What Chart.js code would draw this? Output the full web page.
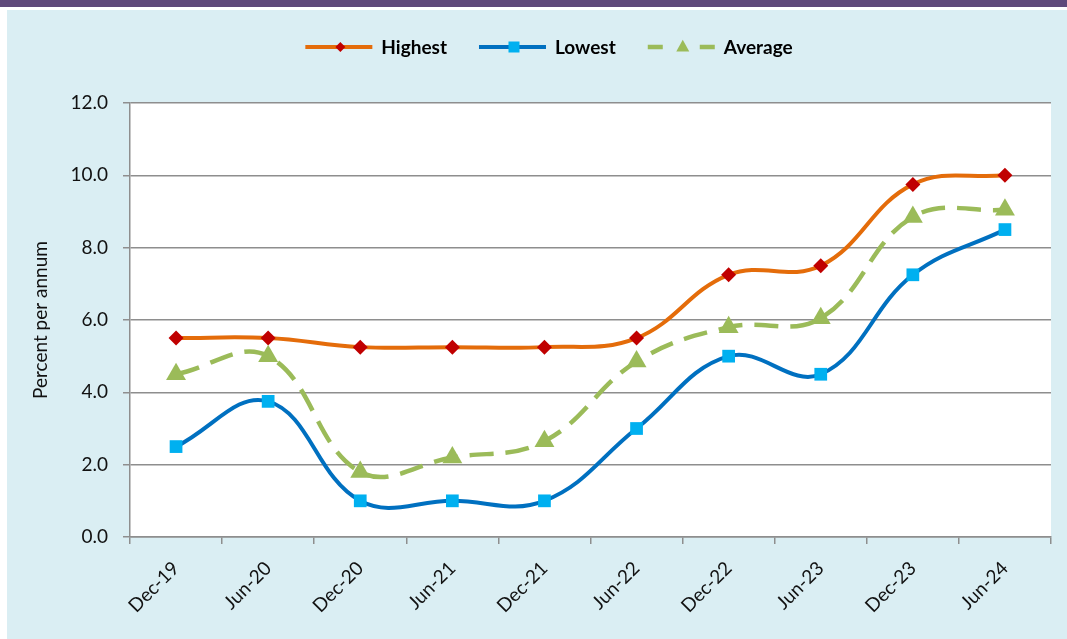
<!DOCTYPE html>
<html>
<head>
<meta charset="utf-8">
<script src="https://cdn.jsdelivr.net/npm/chart.js@4.4.1/dist/chart.umd.min.js"></script>
<style>
  html, body { margin: 0; padding: 0; background: #fff; }
  #band { position: absolute; left: 0; top: 0; width: 1067px; height: 7px; background: #5F497A; }
  #panel { position: absolute; left: 7px; top: 10px; width: 1060px; height: 629px; background: #DAEEF3; }
  #rateChart { position: absolute; left: 0; top: 0; }
</style>
</head>
<body>
<div id="band"></div>
<div id="panel"></div>
<canvas id="rateChart" width="1067" height="639"></canvas>
<script>
// Periods on the x axis
const periods = ['Dec-19', 'Jun-20', 'Dec-20', 'Jun-21', 'Dec-21', 'Jun-22', 'Dec-22', 'Jun-23', 'Dec-23', 'Jun-24'];

// Rates, percent per annum
const highestRates = [5.5, 5.5, 5.25, 5.25, 5.25, 5.5, 7.25, 7.5, 9.75, 10.0];
const lowestRates = [2.5, 3.75, 1.0, 1.0, 1.0, 3.0, 5.0, 4.5, 7.25, 8.5];
const averageRates = [4.5, 5.0, 1.8, 2.2, 2.65, 4.85, 5.8, 6.05, 8.85, 9.05];

const seriesNames = ['Highest', 'Lowest', 'Average'];
const yTicks = [0, 2, 4, 6, 8, 10, 12];

const FONT = 'Lato, "Open Sans", sans-serif';
const GRID = '#8E8E8E';

// white plot area behind everything
const plotBackground = {
    id: 'plotBackground',
    beforeDraw(chart) {
        const a = chart.chartArea;
        const ctx = chart.ctx;
        ctx.save();
        ctx.fillStyle = '#ffffff';
        ctx.fillRect(a.left, a.top, a.right - a.left, a.bottom - a.top);
        ctx.restore();
    }
};

function markerPath(ctx, style, x, y, r) {
    ctx.beginPath();
    if (style === 'rectRot') {
        ctx.moveTo(x - r, y); ctx.lineTo(x, y - r); ctx.lineTo(x + r, y); ctx.lineTo(x, y + r);
    } else if (style === 'rect') {
        ctx.rect(x - r, y - r, 2 * r, 2 * r);
    } else {
        ctx.moveTo(x, y - r * 1.1); ctx.lineTo(x + r, y + r * 0.7); ctx.lineTo(x - r, y + r * 0.7);
    }
    ctx.closePath();
    ctx.fill();
}

// Excel style legend: line with marker in the middle, then bold label
const lineLegend = {
    id: 'lineLegend',
    afterDraw(chart) {
        const ctx = chart.ctx;
        const sizes = [5, 5.5, 6.5];
        ctx.save();
        ctx.font = 'bold 19px ' + FONT;
        ctx.textBaseline = 'middle';
        const items = chart.data.datasets.map(ds => ({ ds, w: 70 + 6 + ctx.measureText(ds.label).width }));
        const total = items.reduce((s, it) => s + it.w, 0) + 32 * (items.length - 1);
        let x = 549 - total / 2;
        const y = 47;
        items.forEach((it, i) => {
            const ds = it.ds;
            ctx.strokeStyle = ds.borderColor;
            ctx.lineWidth = ds.borderWidth;
            ctx.setLineDash(ds.borderDash ? [15, 37] : []);
            ctx.beginPath();
            ctx.moveTo(x, y);
            ctx.lineTo(x + 67, y);
            ctx.stroke();
            ctx.setLineDash([]);
            ctx.fillStyle = ds.pointBackgroundColor;
            markerPath(ctx, ds.pointStyle, x + 35, y, sizes[i]);
            ctx.fillStyle = '#000';
            ctx.fillText(ds.label, x + 76, y + 1);
            x += it.w + 32;
        });
        ctx.restore();
    }
};

const ctx = document.getElementById('rateChart').getContext('2d');
const rateChart = new Chart(ctx, {
    type: 'line',
    data: {
        labels: periods,
        datasets: [
            {
                label: seriesNames[0],
                data: highestRates,
                borderColor: '#E46C0A',
                borderWidth: 4,
                pointStyle: 'rectRot',
                pointRadius: 7.5,
                pointBackgroundColor: '#C00000',
                pointBorderColor: '#C00000',
                pointBorderWidth: 0,
                tension: 0.4,
                order: 3
            },
            {
                label: seriesNames[1],
                data: lowestRates,
                borderColor: '#0070C0',
                borderWidth: 4,
                pointStyle: 'rect',
                pointRadius: 9,
                pointBackgroundColor: '#00B0F0',
                pointBorderColor: '#00B0F0',
                pointBorderWidth: 0,
                tension: 0.4,
                order: 2
            },
            {
                label: seriesNames[2],
                data: averageRates,
                borderColor: '#9BBB59',
                borderWidth: 4.5,
                borderDash: [24, 12],
                pointStyle: 'triangle',
                pointRadius: 11.5,
                pointBackgroundColor: '#9BBB59',
                pointBorderColor: '#9BBB59',
                pointBorderWidth: 0,
                tension: 0.4,
                order: 1
            }
        ]
    },
    options: {
        responsive: false,
        animation: false,
        devicePixelRatio: 1,
        layout: { padding: { left: 29, right: 16, top: 103, bottom: 0 } },
        plugins: {
            legend: { display: false },
            tooltip: { enabled: false }
        },
        scales: {
            x: {
                type: 'category',
                offset: true,
                grid: { offset: true, drawOnChartArea: false, drawTicks: true, tickLength: 7, color: GRID, lineWidth: 1.5 },
                border: { color: GRID, width: 1.5 },
                ticks: {
                    minRotation: 45, maxRotation: 45, padding: 13,
                    color: '#111', font: { family: FONT, size: 19 }
                },
                afterFit(scale) { scale.height = 102; }
            },
            y: {
                min: yTicks[0],
                max: yTicks[yTicks.length - 1],
                afterBuildTicks(scale) { scale.ticks = yTicks.map(v => ({ value: v })); },
                grid: { color: GRID, lineWidth: 1.5, tickLength: 7 },
                border: { color: GRID, width: 1.5 },
                ticks: {
                    padding: 15, color: '#111', font: { family: FONT, size: 19 },
                    callback: v => v.toFixed(1)
                },
                title: {
                    display: true, text: 'Percent per annum', color: '#111',
                    font: { family: FONT, size: 19 }, padding: { top: 0, bottom: 0 }
                },
                afterFit(scale) { scale.width = 101; }
            }
        }
    },
    plugins: [plotBackground, lineLegend]
});
</script>
</body>
</html>
